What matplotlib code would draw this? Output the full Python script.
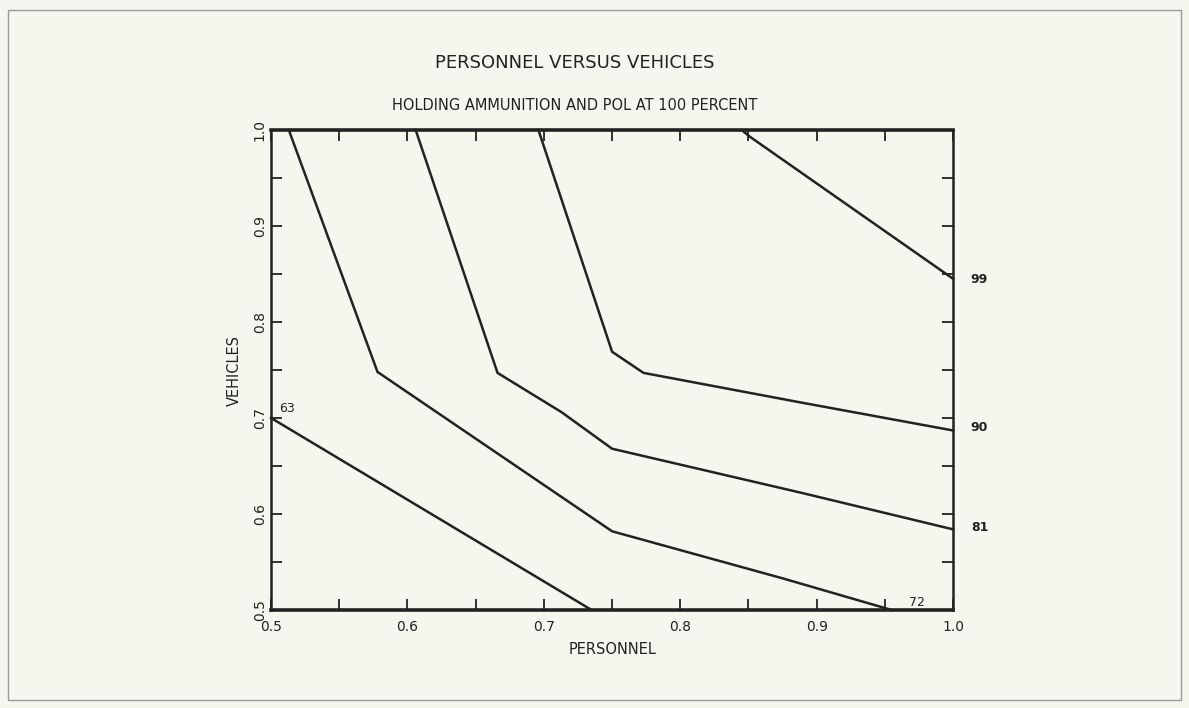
import numpy as np
import matplotlib.pyplot as plt
import matplotlib.ticker as plc
from matplotlib.patches import Rectangle

# contour levels and their traced vertices (personnel, vehicles)
levels = [63, 72, 81, 90, 99]
x63 = [0.50, 0.735]
y63 = [0.70, 0.50]
x72 = [0.513, 0.578, 0.75, 0.875, 0.955]
y72 = [1.00, 0.748, 0.582, 0.533, 0.50]
x81 = [0.606, 0.666, 0.713, 0.75, 0.889, 1.00]
y81 = [1.00, 0.747, 0.706, 0.668, 0.622, 0.584]
x90 = [0.696, 0.75, 0.773, 0.889, 1.00]
y90 = [1.00, 0.769, 0.747, 0.716, 0.687]
x99 = [0.845, 0.851, 1.00]
y99 = [1.00, 0.993, 0.845]
ticks = [0.5, 0.6, 0.7, 0.8, 0.9, 1.0]
tick_labels = ['0.5', '0.6', '0.7', '0.8', '0.9', '1.0']

bg = '#f6f6ee'
ink = '#222222'

fig = plt.figure(figsize=(11.89, 7.08), dpi=100, facecolor=bg)
ax = fig.add_axes([0.228, 0.1384, 0.5736, 0.678], facecolor=bg)

# outer frame of the scanned page
fig.patches.append(Rectangle((0.007, 0.012), 0.986, 0.974, transform=fig.transFigure,
                             fill=False, edgecolor='#9a9a96', linewidth=1.0))

for xs, ys in [(x63, y63), (x72, y72), (x81, y81), (x90, y90), (x99, y99)]:
    ax.plot(xs, ys, color=ink, linewidth=1.8, solid_joinstyle='miter', clip_on=False)

# contour labels
ax.text(0.506, 0.703, '63', fontsize=9, color=ink, ha='left', va='bottom')
ax.text(0.968, 0.501, '72', fontsize=9, color=ink, ha='left', va='bottom')
ax.text(1.013, y81[-1] + 0.002, '81', fontsize=9, color=ink, ha='left', va='center', fontweight='bold')
ax.text(1.013, y90[-1] + 0.003, '90', fontsize=9, color=ink, ha='left', va='center', fontweight='bold')
ax.text(1.013, y99[-1] - 0.001, '99', fontsize=9, color=ink, ha='left', va='center', fontweight='bold')

ax.set_xlim(0.5, 1.0)
ax.set_ylim(0.5, 1.0)
ax.set_xticks(ticks)
ax.set_xticklabels(tick_labels)
ax.set_yticks(ticks)
ax.set_yticklabels(tick_labels, rotation=90, va='center')
ax.xaxis.set_minor_locator(plc.MultipleLocator(0.05))
ax.yaxis.set_minor_locator(plc.MultipleLocator(0.05))
ax.tick_params(which='both', direction='in', length=8, width=1.3, colors=ink,
               top=True, right=True, labelsize=10, pad=7)
ax.tick_params(axis='y', pad=3)
for side in ['top', 'bottom']:
    ax.spines[side].set_linewidth(2.6)
for side in ['left', 'right']:
    ax.spines[side].set_linewidth(1.8)
for s in ax.spines.values():
    s.set_color(ink)

ax.set_xlabel('PERSONNEL', fontsize=10.5, color=ink, labelpad=6)
ax.set_ylabel('VEHICLES', fontsize=10.5, color=ink, labelpad=8)

fig.text(0.4836, 0.911, 'PERSONNEL VERSUS VEHICLES', fontsize=13, color=ink,
         ha='center', va='center')
fig.text(0.4836, 0.851, 'HOLDING AMMUNITION AND POL AT 100 PERCENT', fontsize=10.5,
         color=ink, ha='center', va='center')

fig.savefig('out.png', dpi=100, facecolor=bg)
